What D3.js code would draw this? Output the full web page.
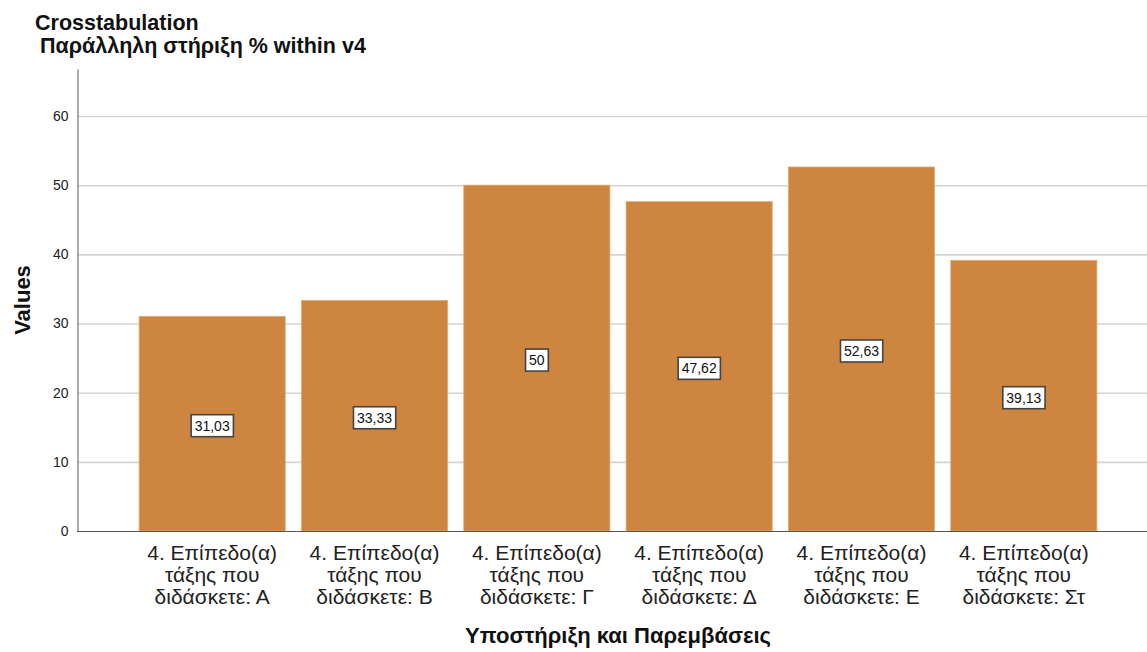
<!DOCTYPE html>
<html>
<head>
<meta charset="utf-8">
<script src="https://cdn.jsdelivr.net/npm/d3@7"></script>
<style>
  html, body { margin: 0; padding: 0; background: #fff; }
  svg { display: block; font-family: "Liberation Sans", Arial, sans-serif; }
</style>
</head>
<body>
<svg id="chart" width="1147" height="652"></svg>
<script>
// Category labels (one line per array entry)
const categories = ["A", "B", "Γ", "Δ", "Ε", "Στ"];
const categoryLines = [
  ["4. Επίπεδο(α)", "τάξης που", "διδάσκετε: Α"],
  ["4. Επίπεδο(α)", "τάξης που", "διδάσκετε: Β"],
  ["4. Επίπεδο(α)", "τάξης που", "διδάσκετε: Γ"],
  ["4. Επίπεδο(α)", "τάξης που", "διδάσκετε: Δ"],
  ["4. Επίπεδο(α)", "τάξης που", "διδάσκετε: Ε"],
  ["4. Επίπεδο(α)", "τάξης που", "διδάσκετε: Στ"]
];
const values = [31.03, 33.33, 50, 47.62, 52.63, 39.13];
const valueLabels = ["31,03", "33,33", "50", "47,62", "52,63", "39,13"];
const yTicks = [0, 10, 20, 30, 40, 50, 60];

const svg = d3.select("#chart");

const plot = { left: 77, right: 1147, top: 69, bottom: 531 };

const x = d3.scaleBand()
  .domain(categories)
  .range([131, 1105])
  .paddingInner(0.1)
  .paddingOuter(0.05);

const y = d3.scaleLinear()
  .domain([0, 66.8])
  .range([plot.bottom, plot.top]);

// Gridlines
svg.append("g")
  .selectAll("line")
  .data(yTicks.filter(d => d > 0))
  .join("line")
  .attr("x1", plot.left)
  .attr("x2", plot.right)
  .attr("y1", d => y(d) + 0.5)
  .attr("y2", d => y(d) + 0.5)
  .attr("stroke", "#d4d4d4")
  .attr("stroke-width", 1.6);

// Y axis
const yAxis = svg.append("g")
  .attr("transform", `translate(${plot.left + 0.5},0)`)
  .call(d3.axisLeft(y).tickValues(yTicks).tickSize(0).tickPadding(9).tickFormat(d3.format("d")));
yAxis.select(".domain").attr("stroke", "#777").attr("stroke-width", 1.2);
yAxis.selectAll("text")
  .attr("font-size", 14)
  .attr("fill", "#222")
  .attr("font-family", "Liberation Sans, Arial, sans-serif");

// Bars
svg.append("g")
  .selectAll("rect")
  .data(values)
  .join("rect")
  .attr("x", (d, i) => x(categories[i]))
  .attr("y", d => y(d))
  .attr("width", x.bandwidth())
  .attr("height", d => y(0) - y(d))
  .attr("fill", "#cd853f")
  .attr("stroke", "#e0a86f")
  .attr("stroke-width", 0.8);

// X axis baseline
svg.append("line")
  .attr("x1", plot.left)
  .attr("x2", plot.right)
  .attr("y1", plot.bottom + 0.5)
  .attr("y2", plot.bottom + 0.5)
  .attr("stroke", "#555")
  .attr("stroke-width", 1.2);

// Value labels in boxes
const lab = svg.append("g")
  .selectAll("g")
  .data(values)
  .join("g")
  .attr("transform", (d, i) =>
    `translate(${x(categories[i]) + x.bandwidth() / 2},${(y(d) + y(0)) / 2 + 2})`);

lab.each(function (d, i) {
  const g = d3.select(this);
  const t = g.append("text")
    .attr("text-anchor", "middle")
    .attr("dy", "0.36em")
    .attr("font-size", 14)
    .attr("fill", "#111")
    .text(valueLabels[i]);
  const bb = t.node().getBBox();
  g.insert("rect", "text")
    .attr("x", bb.x - 3.5)
    .attr("y", -11)
    .attr("width", bb.width + 7)
    .attr("height", 22)
    .attr("fill", "#fff")
    .attr("stroke", "#444")
    .attr("stroke-width", 1.6);
});

// X category labels
const xl = svg.append("g")
  .selectAll("text")
  .data(categoryLines)
  .join("text")
  .attr("text-anchor", "middle")
  .attr("font-size", 21)
  .attr("fill", "#222")
  .attr("x", (d, i) => x(categories[i]) + x.bandwidth() / 2)
  .attr("y", 560);
xl.selectAll("tspan")
  .data(d => d)
  .join("tspan")
  .attr("x", function () { return d3.select(this.parentNode).attr("x"); })
  .attr("dy", (d, i) => i === 0 ? 0 : 22)
  .text(d => d);

// Titles
svg.append("text")
  .attr("x", 35).attr("y", 30)
  .attr("font-size", 21.5).attr("font-weight", "bold").attr("fill", "#111")
  .text("Crosstabulation");
svg.append("text")
  .attr("x", 40).attr("y", 53)
  .attr("font-size", 21.5).attr("font-weight", "bold").attr("fill", "#111")
  .text("Παράλληλη στήριξη % within v4");

// Axis titles
svg.append("text")
  .attr("transform", "translate(30,300) rotate(-90)")
  .attr("text-anchor", "middle")
  .attr("font-size", 22).attr("font-weight", "bold").attr("fill", "#111")
  .text("Values");

svg.append("text")
  .attr("x", 618).attr("y", 643)
  .attr("text-anchor", "middle")
  .attr("font-size", 22).attr("font-weight", "bold").attr("fill", "#111")
  .text("Υποστήριξη και Παρεμβάσεις");
</script>
</body>
</html>
